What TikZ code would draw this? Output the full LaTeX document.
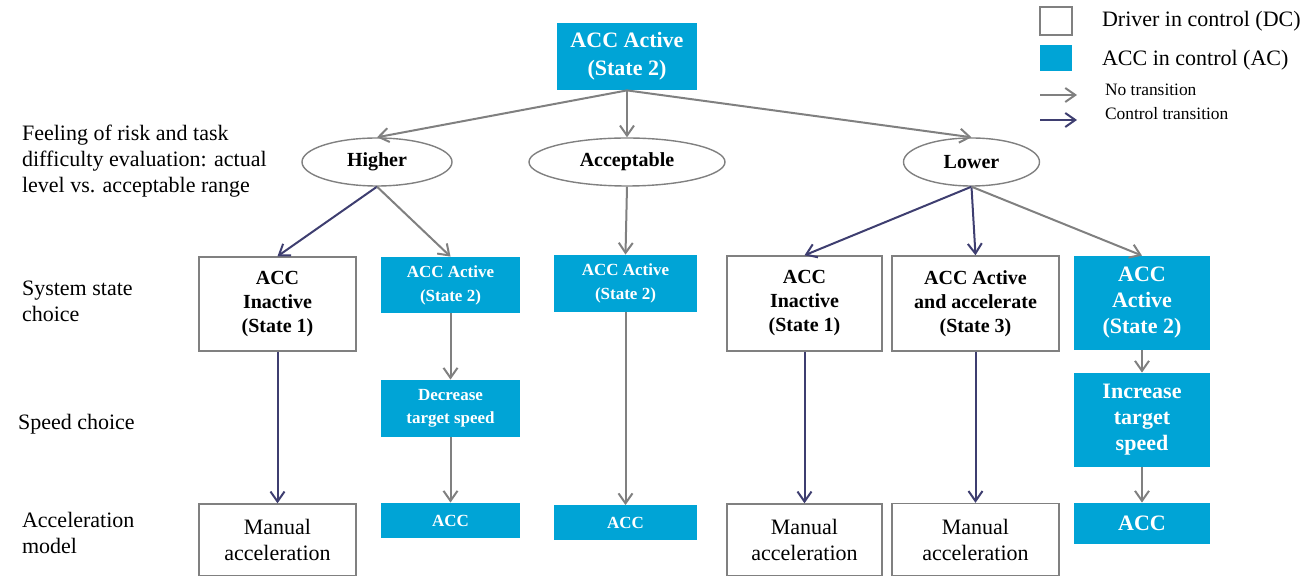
\documentclass[tikz,border=0pt]{standalone}
\usepackage{fontspec}
\setmainfont{Liberation Serif}
\usetikzlibrary{shapes.geometric,arrows.meta}
\definecolor{accblue}{RGB}{0,164,214}
\definecolor{linegray}{RGB}{128,128,128}
\definecolor{ctrlnavy}{RGB}{62,62,112}

\begin{document}
\begin{tikzpicture}[x=0.5pt, y=-0.5pt, font=\fontsize{11}{13}\selectfont,
  driver/.style={draw=linegray, line width=0.7pt, fill=white, align=center, inner sep=0pt},
  acc/.style={fill=accblue, text=white, align=center, inner sep=0pt, font=\fontsize{11}{13}\selectfont\bfseries},
  accsmall/.style={acc, font=\fontsize{8.5}{12}\selectfont\bfseries},
  level/.style={ellipse, draw=linegray, line width=0.7pt, inner sep=0pt, font=\bfseries},
  layer/.style={anchor=west, align=left},
  keep/.style={->, >={Straight Barb[length=5pt,width=7pt]}, draw=linegray, line width=1pt},
  switch/.style={keep, draw=ctrlnavy},
]
\useasboundingbox (0,0) rectangle (1303,576);

\node[acc, minimum width=70pt, minimum height=33.5pt, font=\fontsize{11}{14}\selectfont\bfseries] (top) at (627,56.5) {ACC Active\\(State 2)};

\node[level, minimum width=75pt, minimum height=24pt] (higher) at (377,162) {Higher};
\node[level, minimum width=98pt, minimum height=24pt] (acceptable) at (627,162) {Acceptable};
\node[level, minimum width=68pt, minimum height=24pt] (lower) at (971.5,162) {Lower};

\node[driver, font=\bfseries, minimum width=78.5pt, minimum height=47pt] (inactiveA) at (277.5,304) {ACC\\Inactive\\(State 1)};
\node[accsmall, minimum width=69.5pt, minimum height=28pt] (activeA) at (450.5,285) {ACC Active\\(State 2)};
\node[accsmall, minimum width=71.5pt, minimum height=28.5pt] (activeB) at (625.5,283.5) {ACC Active\\(State 2)};
\node[driver, font=\bfseries, minimum width=77.5pt, minimum height=47.5pt] (inactiveB) at (804.5,303.5) {ACC\\Inactive\\(State 1)};
\node[driver, font=\bfseries, minimum width=83.5pt, minimum height=47.5pt] (accelerate) at (975.5,303.5) {ACC Active\\and accelerate\\(State 3)};
\node[acc, minimum width=68pt, minimum height=47pt] (activeC) at (1142,303) {ACC\\Active\\(State 2)};

\node[accsmall, font=\fontsize{8.5}{11.5}\selectfont\bfseries, minimum width=69.5pt, minimum height=28.5pt] (decrease) at (450.5,408.5) {Decrease\\target speed};
\node[acc, minimum width=68pt, minimum height=47pt] (increase) at (1142,420) {Increase\\target\\speed};

\node[driver, minimum width=78.5pt, minimum height=36pt] (manualA) at (277.5,540) {Manual\\acceleration};
\node[accsmall, minimum width=69.5pt, minimum height=17.5pt] (accA) at (450.5,520.5) {ACC};
\node[accsmall, minimum width=71.5pt, minimum height=17.5pt] (accB) at (625.5,523) {ACC};
\node[driver, minimum width=77.5pt, minimum height=36pt] (manualB) at (804.5,540) {Manual\\acceleration};
\node[driver, minimum width=83.5pt, minimum height=36pt] (manualC) at (975.5,539.5) {Manual\\acceleration};
\node[acc, minimum width=68pt, minimum height=20.5pt] (accC) at (1142,523.5) {ACC};

\node[layer] (feeling) at (15,161) {Feeling of risk and task\\difficulty evaluation: actual\\level vs. acceptable range};
\node[layer] (statechoice) at (15,301) {System state\\choice};
\node[layer] (speedchoice) at (11,424) {Speed choice};
\node[layer] (accelmodel) at (15,533) {Acceleration\\model};

\node[driver, minimum width=16pt, minimum height=14pt] (legdc) at (1056,21) {};
\node[acc, minimum width=16pt, minimum height=13pt] (legac) at (1056,58.5) {};
\node[layer] at (1095,21) {Driver in control (DC)};
\node[layer] at (1095,60) {ACC in control (AC)};
\coordinate (nofrom) at (1040,95);
\coordinate (noto) at (1077,95);
\coordinate (ctrlfrom) at (1040,120);
\coordinate (ctrlto) at (1077,120);
\node[layer, font=\fontsize{8.7}{10}\selectfont] at (1098,90) {No transition};
\node[layer, font=\fontsize{8.7}{10}\selectfont] at (1098,114) {Control transition};
\draw[keep] (nofrom) -- (noto);
\draw[switch] (ctrlfrom) -- (ctrlto);

\draw[keep] (top.south) -- (higher.north);
\draw[keep] (top.south) -- (acceptable.north);
\draw[keep] (top.south) -- (lower.north);
\draw[switch] (higher.south) -- (inactiveA.north);
\draw[keep] (higher.south) -- (activeA.north);
\draw[keep] (acceptable.south) -- (activeB.north);
\draw[switch] (lower.south) -- (inactiveB.north);
\draw[switch] (lower.south) -- (accelerate.north);
\draw[keep] (lower.south) -- (activeC.north);
\draw[switch] (inactiveA) -- (manualA);
\draw[keep] (activeA) -- (decrease);
\draw[keep] (decrease) -- (accA);
\draw[keep] (activeB) -- (accB);
\draw[switch] (inactiveB) -- (manualB);
\draw[switch] (accelerate) -- (manualC);
\draw[keep] (activeC) -- (increase);
\draw[keep] (increase) -- (accC);
\end{tikzpicture}
\end{document}
